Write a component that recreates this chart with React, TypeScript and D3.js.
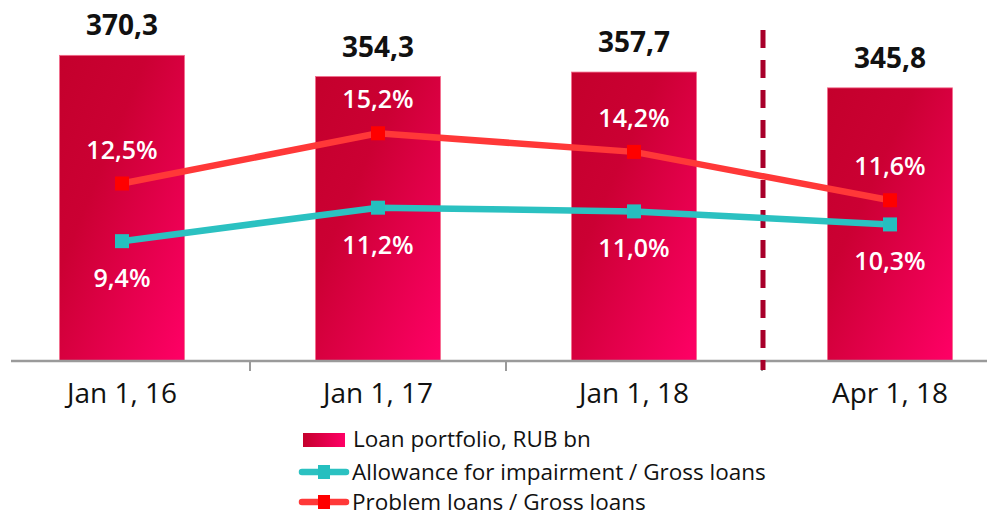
import React from 'react';
import * as d3 from 'd3';

const categories = ['Jan 1, 16', 'Jan 1, 17', 'Jan 1, 18', 'Apr 1, 18'];
const loanPortfolio = [370.3, 354.3, 357.7, 345.8];
const allowanceRatio = [9.4, 11.2, 11.0, 10.3];
const problemRatio = [12.5, 15.2, 14.2, 11.6];
const legendLabels = [
  'Loan portfolio, RUB bn',
  'Allowance for impairment / Gross loans',
  'Problem loans / Gross loans',
];

const W = 987;
const H = 516;
const FONT = '"Open Sans", "Noto Sans", sans-serif';
const BASE = 361;

const fmt = (v: number) => v.toFixed(1).replace('.', ',');

export default function App() {
  const x = d3
    .scaleBand<string>()
    .domain(categories)
    .range([-6, 1018])
    .paddingInner(0.512)
    .paddingOuter(0.256);
  const y = d3.scaleLinear().domain([140, 412]).range([BASE, 0]);
  const y2 = d3.scaleLinear().domain([0, 20]).range([416, 44]);
  const bw = x.bandwidth();
  const step = x.step();
  const cx = (c: string) => (x(c) as number) + bw / 2;
  const boundary = (i: number) => (x(categories[i]) as number) - (step * 0.512) / 2;

  const line = d3
    .line<number>()
    .x((_, i) => cx(categories[i]))
    .y((d) => y2(d));

  const series = [
    { values: allowanceRatio, line: '#2BC1C1', marker: '#25BFBF', above: false },
    { values: problemRatio, line: '#FF3838', marker: '#FF0000', above: true },
  ];
  const ms = 14;

  return (
    <svg
      width={W}
      height={H}
      style={{ position: 'absolute', left: 0, top: 0, background: '#fff' }}
      fontFamily={FONT}
    >
      <defs>
        <linearGradient id="barGrad" x1="0" y1="0" x2="1" y2="1">
          <stop offset="0" stopColor="#C4002C" />
          <stop offset="0.35" stopColor="#CB0033" />
          <stop offset="1" stopColor="#FF0066" />
        </linearGradient>
        <linearGradient id="legGrad" x1="0" y1="0" x2="1" y2="0">
          <stop offset="0" stopColor="#C4002C" />
          <stop offset="1" stopColor="#FF0066" />
        </linearGradient>
      </defs>

      {/* bars */}
      {categories.map((c, i) => (
        <g key={c}>
          <rect
            x={x(c)}
            y={y(loanPortfolio[i])}
            width={bw}
            height={BASE - y(loanPortfolio[i])}
            fill="url(#barGrad)"
            stroke="#F36A8A"
            strokeWidth={0.8}
          />
          <text
            x={cx(c)}
            y={y(loanPortfolio[i]) - 20}
            textAnchor="middle"
            fontSize={28}
            fontWeight="bold"
            fill="#111"
          >
            {fmt(loanPortfolio[i])}
          </text>
        </g>
      ))}

      {/* axis */}
      <line x1={11} x2={987} y1={BASE} y2={BASE} stroke="#9A9A9A" strokeWidth={2.5} />
      {[1, 2, 3].map((i) => (
        <line
          key={i}
          x1={boundary(i)}
          x2={boundary(i)}
          y1={BASE}
          y2={BASE + 10}
          stroke="#9A9A9A"
          strokeWidth={2}
        />
      ))}
      {categories.map((c) => (
        <text key={c} x={cx(c)} y={403} textAnchor="middle" fontSize={28} fill="#111">
          {c}
        </text>
      ))}

      {/* dashed separator */}
      <line
        x1={boundary(3) + 1}
        x2={boundary(3) + 1}
        y1={30}
        y2={370}
        stroke="#A8002A"
        strokeWidth={5}
        strokeDasharray="18 12"
      />

      {/* lines */}
      {series.map((s, si) => (
        <g key={si}>
          <path d={line(s.values) as string} fill="none" stroke={s.line} strokeWidth={6.5} />
          {s.values.map((v, i) => (
            <rect
              key={i}
              x={cx(categories[i]) - ms / 2}
              y={y2(v) - ms / 2}
              width={ms}
              height={ms}
              fill={s.marker}
            />
          ))}
          {s.values.map((v, i) => (
            <text
              key={'t' + i}
              x={cx(categories[i])}
              y={s.above ? y2(v) - 25 : y2(v) + 46}
              textAnchor="middle"
              fontSize={25}
              fontWeight={600}
              fill="#fff"
            >
              {fmt(v) + '%'}
            </text>
          ))}
        </g>
      ))}

      {/* legend */}
      <g>
        <rect x={303} y={433} width={42} height={14} fill="url(#legGrad)" />
        <text x={353} y={447} fontSize={22.5} fill="#111">
          {legendLabels[0]}
        </text>
        {series.map((s, si) => {
          const ly = 472 + si * 30;
          return (
            <g key={si}>
              <line x1={302} x2={346} y1={ly} y2={ly} stroke={s.line} strokeWidth={6.5} strokeLinecap="round" />
              <rect x={324 - 6} y={ly - 7} width={12} height={14} fill={s.marker} />
              <text x={352} y={ly + 7.5} fontSize={22.5} fill="#111">
                {legendLabels[si + 1]}
              </text>
            </g>
          );
        })}
      </g>
    </svg>
  );
}
